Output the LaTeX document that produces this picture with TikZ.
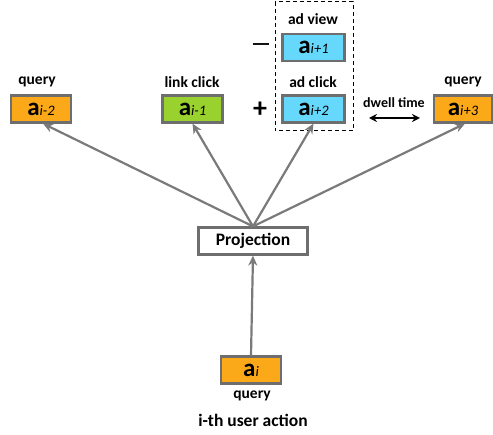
\documentclass[tikz,border=0pt]{standalone}
\usepackage{fontspec}
\usepackage{graphicx}
\setmainfont{Carlito}
\newfontfamily\djv{DejaVu Sans}
\usetikzlibrary{arrows.meta}
\definecolor{orangeF}{HTML}{FBA919}
\definecolor{greenF}{HTML}{99D12E}
\definecolor{cyanF}{HTML}{66D8FC}
\definecolor{borderC}{HTML}{6E6E6E}
\definecolor{arrowC}{HTML}{7A7A7A}
\tikzset{
  actbox/.style={draw=borderC, line width=2.2pt, minimum width=60pt, minimum height=27pt, inner sep=0pt},
  lbl/.style={font=\bfseries\fontsize{15.5}{17}\selectfont, inner sep=0pt},
  conn/.style={draw=arrowC, line width=2.2pt, -{Stealth[length=10pt,width=9pt]}},
}
\newcommand{\act}[1]{{\bfseries\fontsize{25}{26}\selectfont a}{\itshape\fontsize{14.5}{15}\selectfont #1}}
\begin{document}
\begin{tikzpicture}[x=1pt,y=-1pt]
\useasboundingbox (0,0) rectangle (493,435);
% dashed group
\draw[dashed, line width=1pt, dash pattern=on 4pt off 3pt] (275,2) rectangle (353,131);
% action boxes
\node[actbox, fill=orangeF] (am2) at (41,109) {\act{i-2}};
\node[actbox, fill=greenF] (am1) at (192.5,109) {\act{i-1}};
\node[actbox, fill=cyanF, minimum width=62pt] (ap1) at (313.5,47.5) {\act{i+1}};
\node[actbox, fill=cyanF, minimum width=62pt] (ap2) at (313.5,109) {\act{i+2}};
\node[actbox, fill=orangeF, minimum width=58pt] (ap3) at (463,109) {\act{i+3}};
\node[actbox, fill=orangeF] (ai) at (251,370) {\act{i}};
% projection
\node[draw=borderC, line width=2.2pt, fill=white, minimum width=109pt, minimum height=27pt, inner sep=0pt, font=\bfseries\fontsize{17.5}{19}\selectfont] (proj) at (253,241) {Projection};
% labels
\node[lbl] (lq1) at (37,82) {query};
\node[lbl] (llc) at (192,82) {link click};
\node[lbl] (lav) at (313,19) {ad view};
\node[lbl] (lac) at (313,82) {ad click};
\node[lbl] (lq2) at (463,82) {query};
\node[lbl] (lq3) at (252,396) {query};
\node[lbl, font=\bfseries\fontsize{17.5}{19}\selectfont] (luser) at (253,420) {i-th user action};
\node[lbl, font=\bfseries\fontsize{14}{15}\selectfont] (ldw) at (394,103) {dwell time};
\node[inner sep=0pt, font=\djv\bfseries\fontsize{16}{16}\selectfont] (minus) at (261,47) {\scalebox{1.6}[1]{−}};
\node[inner sep=0pt, font=\bfseries\fontsize{28}{28}\selectfont] (plus) at (260,110) {+};
% dwell arrow
\coordinate (dwl) at (369,118);
\coordinate (dwr) at (420,118);
\draw[line width=1.6pt, {Stealth[length=8pt,width=8pt]}-{Stealth[length=8pt,width=8pt]}] (dwl) -- (dwr);
% connectors
\draw[conn] (ai.north) -- (proj.south);
\draw[conn] (proj.north) -- ([xshift=2pt]am2.south);
\draw[conn] (proj.north) -- (am1.south);
\draw[conn] (proj.north) -- (ap2.south);
\draw[conn] (proj.north) -- ([xshift=2pt]ap3.south);
\end{tikzpicture}
\end{document}
